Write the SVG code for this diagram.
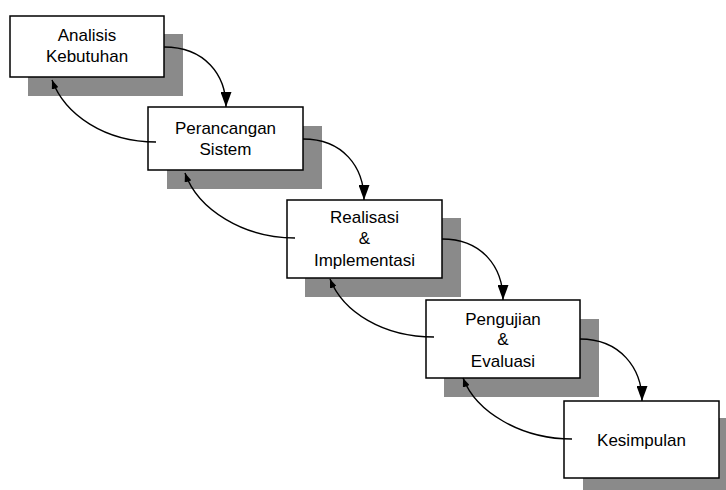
<svg xmlns="http://www.w3.org/2000/svg" width="726" height="490" viewBox="0 0 726 490">
<style>
.sh{fill:#8a8a8a;}
.bx{fill:#fff;stroke:#000;stroke-width:1.5;}
.t{font-family:"Liberation Sans",Arial,sans-serif;font-size:17px;fill:#000;text-anchor:middle;}
.fw{fill:none;stroke:#000;stroke-width:1.4;marker-end:url(#big);}
.bw{fill:none;stroke:#000;stroke-width:1.4;marker-end:url(#small);}
</style>
<defs>
<marker id="big" markerUnits="userSpaceOnUse" viewBox="0 0 15 11" refX="15" refY="5.5" markerWidth="15" markerHeight="11" orient="auto">
<path d="M0,0 L15,5.5 L0,11 z" fill="#000"/>
</marker>
<marker id="small" markerUnits="userSpaceOnUse" viewBox="0 0 9 7" refX="9" refY="3.5" markerWidth="9" markerHeight="7" orient="auto">
<path d="M0,0 L9,3.5 L0,7 z" fill="#000"/>
</marker>
</defs>
<rect width="726" height="490" fill="#fff"/>
<g id="node1">
<rect class="sh" x="28" y="34" width="155" height="62"/>
<rect class="bx" x="10" y="16" width="154" height="61"/>
<text class="t" x="87" y="41">Analisis</text>
<text class="t" x="87" y="62">Kebutuhan</text>
</g>
<g id="node2">
<rect class="sh" x="167" y="126" width="155" height="63"/>
<rect class="bx" x="148" y="107" width="155" height="63"/>
<text class="t" x="225.5" y="134">Perancangan</text>
<text class="t" x="225.5" y="155">Sistem</text>
</g>
<g id="node3">
<rect class="sh" x="305" y="218" width="156" height="79"/>
<rect class="bx" x="287" y="200" width="155" height="78"/>
<text class="t" x="364.5" y="223">Realisasi</text>
<text class="t" x="364.5" y="244">&amp;</text>
<text class="t" x="364.5" y="266">Implementasi</text>
</g>
<g id="node4">
<rect class="sh" x="444" y="319" width="155" height="78"/>
<rect class="bx" x="426" y="300" width="154" height="78"/>
<text class="t" x="503" y="325">Pengujian</text>
<text class="t" x="503" y="345">&amp;</text>
<text class="t" x="503" y="367">Evaluasi</text>
</g>
<g id="node5">
<rect class="sh" x="583" y="418" width="150" height="80"/>
<rect class="bx" x="564" y="401" width="155" height="77"/>
<text class="t" x="641.5" y="446">Kesimpulan</text>
</g>
<g id="connectors">
<path class="fw" d="M164,47 C205,47 226,75 226,107"/>
<path class="fw" d="M303,139 C343,139 364,167 364,200"/>
<path class="fw" d="M442,239 C482,239 503,267 503,300"/>
<path class="fw" d="M580,339 C620,339 642,368 642,401"/>
<path class="bw" d="M156,142 C105,142 65,115 52,80"/>
<path class="bw" d="M295,238 C244,238 198,210 185,173"/>
<path class="bw" d="M434,337 C383,337 343,312 330,279"/>
<path class="bw" d="M572,439 C521,439 476,412 463,378"/>
</g>
</svg>
